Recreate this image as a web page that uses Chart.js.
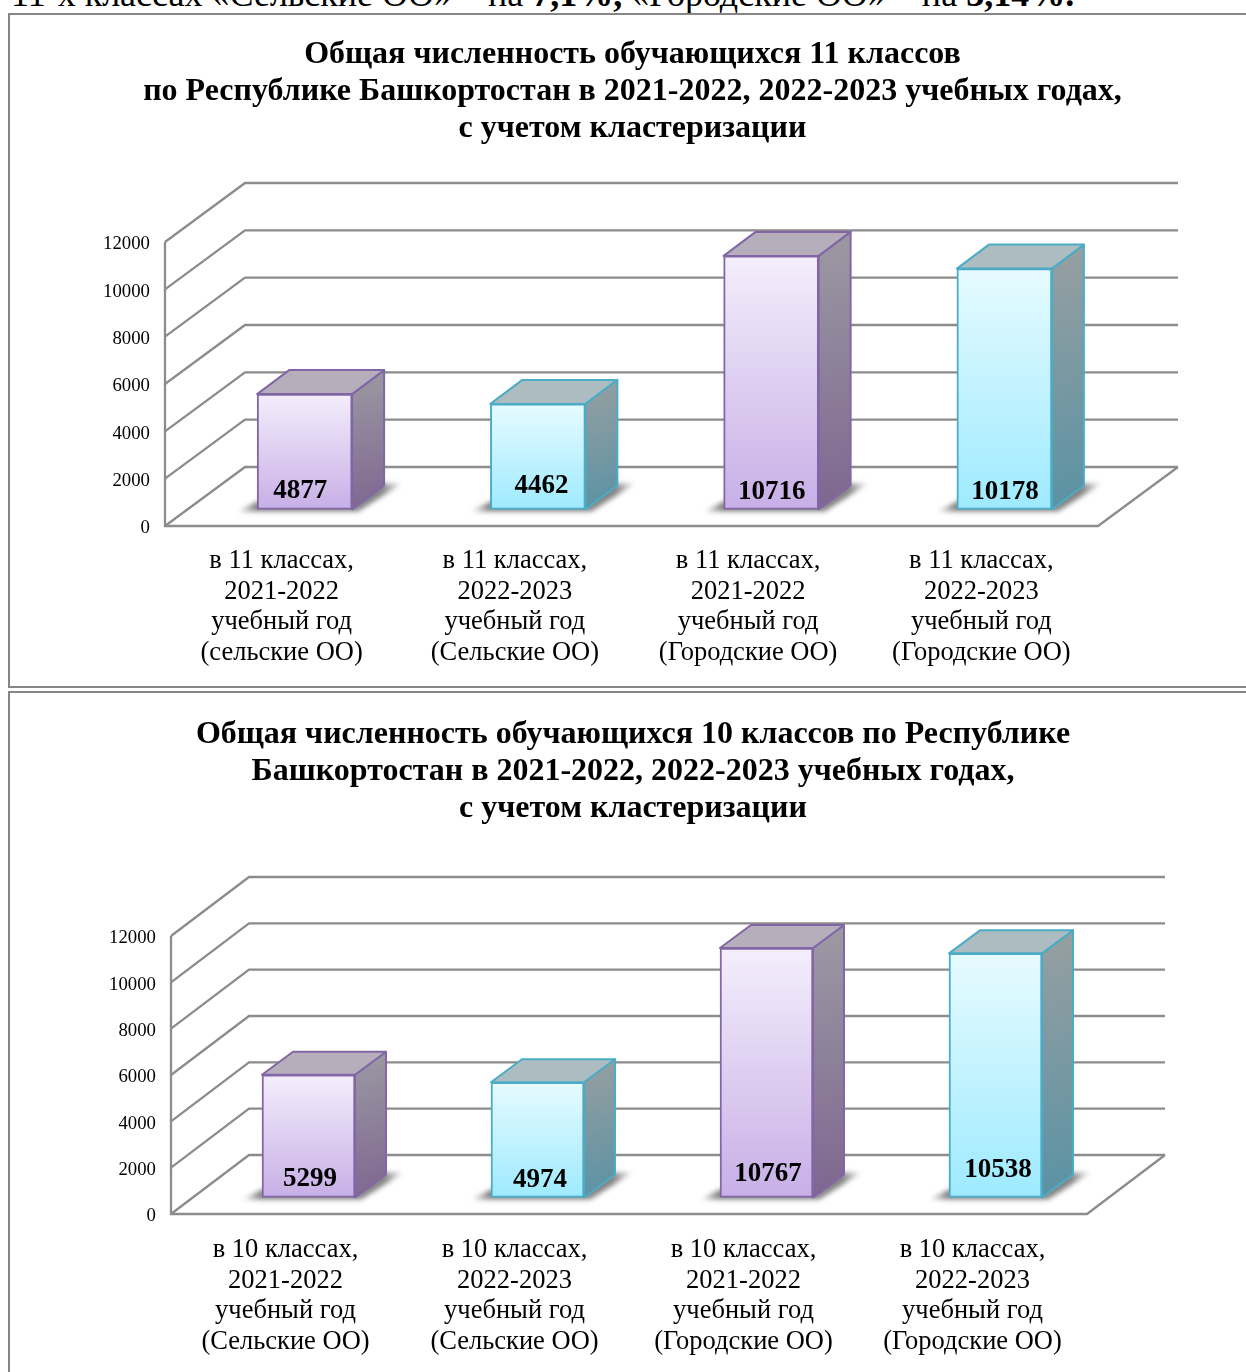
<!DOCTYPE html>
<html lang="ru"><head><meta charset="utf-8">
<script src="https://cdn.jsdelivr.net/npm/chart.js@4"></script>
<style>
html,body{margin:0;padding:0;background:#fff;width:1246px;height:1372px;overflow:hidden;position:relative}
#lead{position:absolute;left:11px;top:-23px;white-space:nowrap;font:36px/34px "Liberation Serif",serif;color:#000}
.frame{position:absolute;border:2px solid #868686;box-sizing:border-box;background:#fff;width:1300px}
canvas{position:absolute}
</style></head><body>
<div id="lead">11-х классах «Сельские ОО» – на <b>7,1%,</b> «Городские ОО» – на <b>3,14%.</b></div>
<div class="frame" style="left:8px;top:13px;height:675px"></div>
<div class="frame" style="left:8px;top:691px;height:720px"></div>
<canvas id="c11" width="1247" height="672" style="left:9px;top:15px"></canvas>
<canvas id="c10" width="1248" height="679" style="left:9px;top:693px"></canvas>
<script>
const title11 = ["Общая численность обучающихся 11 классов","по Республике Башкортостан в 2021-2022, 2022-2023 учебных годах,","с учетом кластеризации"];
const categories11 = [["в 11 классах,","2021-2022","учебный год","(сельские ОО)"],["в 11 классах,","2022-2023","учебный год","(Сельские ОО)"],["в 11 классах,","2021-2022","учебный год","(Городские ОО)"],["в 11 классах,","2022-2023","учебный год","(Городские ОО)"]];
const values11 = [4877,4462,10716,10178];
const title10 = ["Общая численность обучающихся 10 классов по Республике","Башкортостан в 2021-2022, 2022-2023 учебных годах,","с учетом кластеризации"];
const categories10 = [["в 10 классах,","2021-2022","учебный год","(Сельские ОО)"],["в 10 классах,","2022-2023","учебный год","(Сельские ОО)"],["в 10 классах,","2021-2022","учебный год","(Городские ОО)"],["в 10 классах,","2022-2023","учебный год","(Городские ОО)"]];
const values10 = [5299,4974,10767,10538];
const yMin = 0, yMax = 12000, yStep = 2000;

const SERIF = '"Liberation Serif", serif';
const PURPLE = {top:'#F4EEFC',bot:'#C7AFE6',line:'#8266A6',sideA:'#9C9AA3',sideB:'#7E6690',roof:'#B6AEBB'};
const CYAN   = {top:'#E6FBFF',bot:'#9EEAFF',line:'#4BACC6',sideA:'#979FA1',sideB:'#5A92A4',roof:'#ADBCC1'};
const palettes = [PURPLE,CYAN,PURPLE,CYAN];

function poly(ctx,pts){ctx.beginPath();pts.forEach((p,i)=>i?ctx.lineTo(p[0],p[1]):ctx.moveTo(p[0],p[1]));ctx.closePath();}

const box3d = {
  id:'box3d',
  beforeDatasetsDraw(chart,_,o){
    const {ctx,scales:{x,y}}=chart; const L=x.left,R=x.right;
    ctx.save();ctx.strokeStyle='#8c8c8c';ctx.lineWidth=2.3;ctx.lineJoin='miter';
    y.ticks.forEach(t=>{
      const py=y.getPixelForValue(t.value);
      ctx.beginPath();ctx.moveTo(L,py);ctx.lineTo(L+o.wallX,py-o.wallY);ctx.lineTo(R+o.wallX,py-o.wallY);ctx.stroke();
    });
    const b=y.getPixelForValue(yMin),t=y.getPixelForValue(yMax);
    ctx.beginPath();ctx.moveTo(L,t);ctx.lineTo(L,b);ctx.lineTo(R,b);ctx.lineTo(R+o.wallX,b-o.wallY);ctx.stroke();
    ctx.restore();
  },
  beforeDatasetDraw(chart,args,o){
    const {ctx}=chart;
    ctx.save();ctx.translate(o.shiftX,-o.shiftY);
    chart.getDatasetMeta(args.index).data.forEach((el,i)=>{
      const pal=palettes[i], x0=el.x-el.width/2, x1=el.x+el.width/2, top=el.y, bot=el.base, dx=o.depthX, dy=o.depthY;
      ctx.save();ctx.filter='blur(2.5px)';
      const g=ctx.createLinearGradient(x0-22,0,x1+dx+20,0);
      const w=x1+dx+20-(x0-22);
      g.addColorStop(0,'rgba(80,80,80,0)');g.addColorStop(20/w,'rgba(80,80,80,.7)');
      g.addColorStop((w-22)/w,'rgba(80,80,80,.7)');g.addColorStop(1,'rgba(80,80,80,0)');
      ctx.fillStyle=g;
      poly(ctx,[[x0-20,bot+2],[x0,bot-8],[x1+dx,bot-dy-2],[x1+dx+18,bot-dy-2],[x1+6,bot+2]]);ctx.fill();
      ctx.restore();
      const sg=ctx.createLinearGradient(x1,top-dy,x1+dx,bot);
      sg.addColorStop(0,pal.sideA);sg.addColorStop(1,pal.sideB);
      ctx.fillStyle=sg;ctx.strokeStyle=pal.line;ctx.lineWidth=2;ctx.lineJoin='round';
      poly(ctx,[[x1,top],[x1+dx,top-dy],[x1+dx,bot-dy],[x1,bot]]);ctx.fill();ctx.stroke();
      ctx.fillStyle=pal.roof;
      poly(ctx,[[x0,top],[x0+dx,top-dy],[x1+dx,top-dy],[x1,top]]);ctx.fill();ctx.stroke();
    });
  },
  afterDatasetDraw(chart){chart.ctx.restore();},
  afterDatasetsDraw(chart,_,o){
    const {ctx}=chart;
    ctx.save();ctx.font='bold '+o.valueSize+'px '+SERIF;ctx.fillStyle='#000';ctx.textAlign='center';ctx.textBaseline='middle';
    chart.getDatasetMeta(0).data.forEach((el,i)=>{
      const n=o.valueNudge[i];
      ctx.fillText(String(chart.data.datasets[0].data[i]),el.x+23.5+n[0],el.base-17+n[1]+2);
    });
    ctx.restore();
  }
};

function build(id,titleLines,cats,vals,g){
  new Chart(document.getElementById(id),{
    type:'bar',
    data:{labels:cats,datasets:[{data:vals,clip:false,yAxisID:'y',
      barThickness:g.barW,
      borderWidth:2,borderSkipped:false,
      borderColor:c=>(palettes[c.dataIndex]||PURPLE).line,
      backgroundColor:c=>{
        const pal=palettes[c.dataIndex]||PURPLE,y=c.chart.scales.y;
        if(!y||!Number.isFinite(c.raw)) return pal.bot;
        const a=y.getPixelForValue(c.raw),b=y.getPixelForValue(yMin);
        if(!Number.isFinite(a)||!Number.isFinite(b)) return pal.bot;
        const gr=c.chart.ctx.createLinearGradient(0,a,0,b);
        gr.addColorStop(0,pal.top);gr.addColorStop(1,pal.bot);return gr;
      }}]},
    options:{
      responsive:false,animation:false,devicePixelRatio:1,
      layout:{padding:0},
      plugins:{
        legend:{display:false},tooltip:{enabled:false},
        title:{display:true,text:titleLines,color:'#000',
          font:{family:SERIF,size:g.titleSize,weight:'bold',lineHeight:37/g.titleSize},
          padding:{top:g.titleTop,bottom:g.titleBot}},
        box3d:g
      },
      scales:{
        x:{grid:{display:false,drawTicks:false},border:{display:false},offset:true,
          afterFit:s=>{s.height=g.axisH;},
          ticks:{autoSkip:false,maxRotation:0,minRotation:0,padding:g.catPad,color:'#000',
            font:{family:SERIF,size:g.catSize,lineHeight:30.5/g.catSize}}},
        y:{min:yMin,max:yMax,grid:{display:false,drawTicks:false},border:{display:false},
          afterFit:s=>{s.width=g.axisW;},
          ticks:{stepSize:yStep,padding:15,labelOffset:2.5,color:'#000',callback:v=>String(v),font:{family:SERIF,size:g.tickSize}}},
        yRight:{axis:'y',position:'right',display:true,min:yMin,max:yMax,grid:{display:false,drawTicks:false},border:{display:false},
          ticks:{display:false},afterFit:s=>{s.width=g.padR;}}
      }
    },
    plugins:[box3d]
  });
}
build('c11',title11,categories11,values11,{axisW:156,axisH:161,padR:158,titleTop:21.5,titleBot:94.5,titleSize:32,catSize:26.5,catPad:20,tickSize:18.8,
  wallX:80,wallY:59,shiftX:23,shiftY:16.5,depthX:32,depthY:24,barW:95,valueSize:27,
  valueNudge:[[-5,-20],[3,-25],[0,-19],[0,-19]]});
build('c10',title10,categories10,values10,{axisW:162,axisH:158,padR:170,titleTop:23.5,titleBot:108.5,titleSize:32,catSize:26.5,catPad:21,tickSize:18.8,
  wallX:78,wallY:59,shiftX:23,shiftY:16.5,depthX:31,depthY:23,barW:93,valueSize:27,
  valueNudge:[[1,-20],[2,-19],[1,-25],[2,-29]]});
</script>
</body></html>
